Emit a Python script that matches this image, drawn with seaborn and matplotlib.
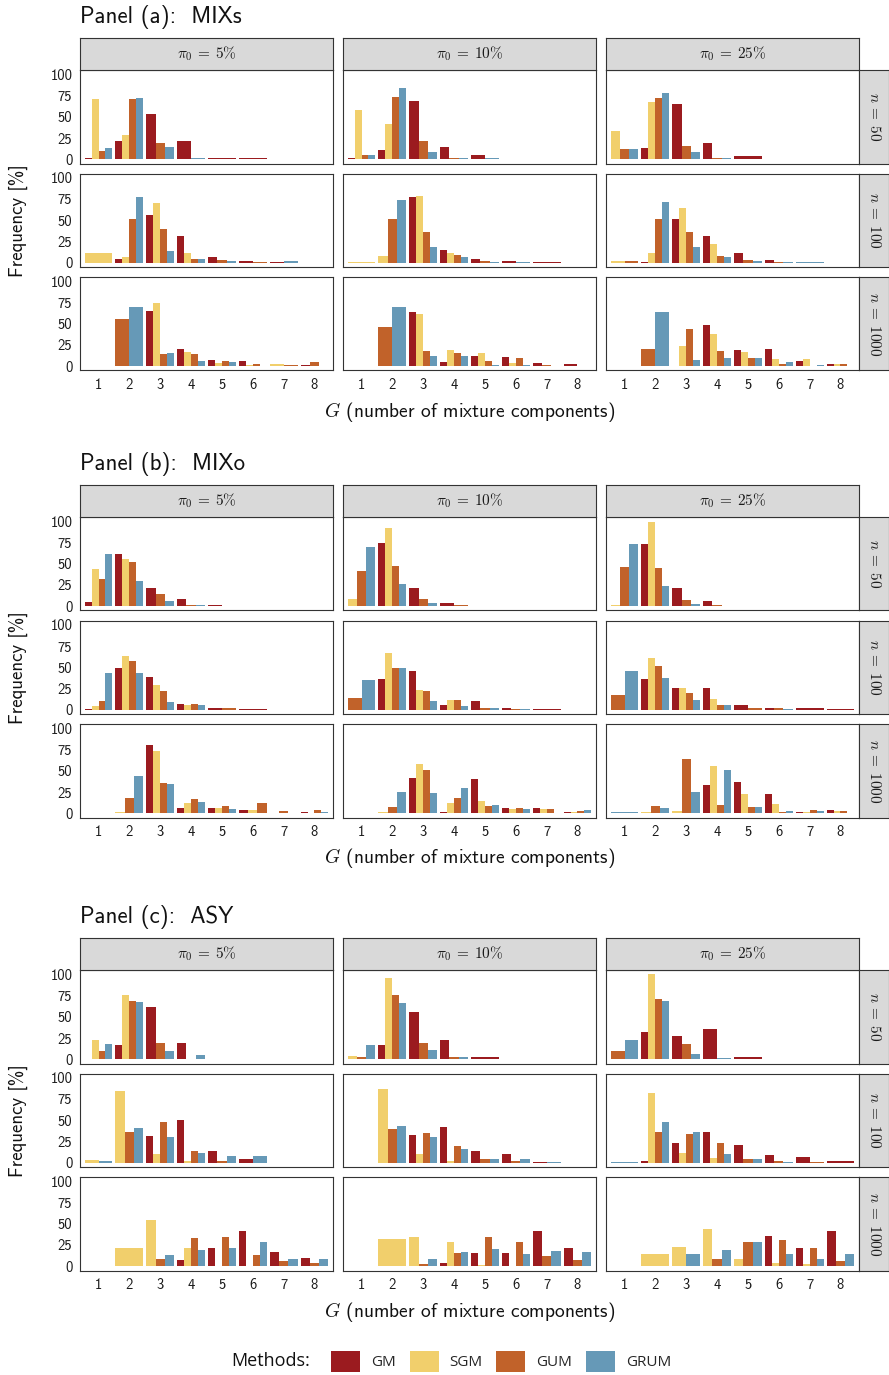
import matplotlib
matplotlib.use("Agg")
import matplotlib as mpl
import matplotlib.pyplot as plt
from matplotlib.patches import Patch
import pandas as pd
import seaborn as sns
import seaborn.objects as so

N = None

METHODS = ["GM", "SGM", "GUM", "GRUM"]
COLORS = ["#9B1B1F", "#F1CF6C", "#C1622A", "#6699B7"]
G_VALUES = [1, 2, 3, 4, 5, 6, 7, 8]
N_LEVELS = [50, 100, 1000]
PI_LEVELS = ["5", "10", "25"]
PANEL_TITLES = ["Panel (a):  MIXs", "Panel (b):  MIXo", "Panel (c):  ASY"]

# Frequencies [%] of the selected G; facets ordered (n=50: pi 5,10,25), (n=100: ...), (n=1000: ...).
# None marks a G value that a method never selected.
MIXS_GM = [
    [2, 22, 53, 21, 2, 1.5, N, N], [1, 11, 69, 14, 5, N, N, N], [N, 13, 65, 19, 3.5, N, N, N],
    [N, 4, 56, 32, 7, 1.5, 0.8, N], [N, N, 77, 15, 5, 2, 1, N], [N, 0.8, 52, 32, 12, 3.5, N, N],
    [N, N, 65, 20, 7, 6, N, 2], [N, N, 64, 5, 12, 11, 4, 3], [N, N, 0.8, 49, 19, 20, 6, 3],
]
MIXS_SGM = [
    [71, 29, N, N, N, N, N, N], [58, 42, N, N, N, N, N, N], [33, 67, N, N, N, N, N, N],
    [11, 7, 70, 12, N, N, N, N], [1, 8, 79, 12, N, N, N, N], [2.5, 11, 65, 22, N, N, N, N],
    [N, N, 74, 17, 4, 1.5, 3, N], [N, N, 61, 19, 16, 4, N, N], [N, N, 24, 38, 17, 8, 8, 3],
]
MIXS_GUM = [
    [10, 71, 19, N, N, N, N, N], [5, 73, 21, 1, N, N, N, N], [12, 72, 15, 1, N, N, N, N],
    [N, 51, 40, 5, 3, 1, N, N], [N, 52, 36, 9, 2.5, N, N, N], [1.5, 51, 36, 8, 3.5, 0.8, N, N],
    [N, 56, 14, 14, 6, 3, 2, 5], [N, 46, 18, 15, 6, 10, 1.5, 0.8], [N, 20, 44, 18, 10, 3, 0.8, 3],
]
MIXS_GRUM = [
    [13, 72, 14, 1, N, N, N, N], [5, 84, 8, 2, 1, N, N, N], [12, 78, 9, 1, N, N, N, N],
    [N, 77, 14, 5, 2.5, N, 1.5, N], [N, 74, 18, 7, 0.8, 0.8, N, N], [N, 71, 18, 7, 2.5, 0.8, 0.8, N],
    [N, 70, 16, 6, 5, 0.8, N, 0.8], [N, 70, 12, 12, 1.5, 1.5, 0.8, N], [N, 64, 7, 10, 10, 5, 1.5, 0.8],
]

MIXO_GM = [
    [5, 62, 22, 8, 1, 0.8, N, N], [N, 74, 21, 3.5, 0.8, N, N, N], [N, 73, 21, 6, 0.8, N, N, N],
    [0.8, 49, 38, 7, 2.5, 0.8, N, N], [N, 36, 46, 6, 10, 1.5, 0.8, N], [N, 36, 25, 26, 6, 2.5, 2.5, 0.8],
    [N, N, 80, 6, 6, 4, N, 1.5], [N, N, 42, 1.5, 40, 6, 6, 1.5], [N, N, N, 33, 37, 23, 1.5, 4],
]
MIXO_SGM = [
    [44, 56, N, N, N, N, N, N], [8, 92, N, N, N, N, N, N], [1, 99, N, N, N, N, N, N],
    [4, 63, 29, 5, N, N, N, N], [N, 67, 23, 11, N, N, N, N], [N, 61, 26, 13, N, N, N, N],
    [N, 1.5, 73, 12, 6, 4, 0.8, 0.8], [N, 1.5, 58, 12, 15, 5, 5, 1.5], [N, 1.5, 2.5, 56, 23, 11, 1.5, 2.5],
]
MIXO_GUM = [
    [32, 52, 14, 1.5, N, N, N, N], [41, 47, 9, 1.5, N, N, N, N], [46, 45, 7, 1.5, 0.8, N, N, N],
    [10, 57, 22, 7, 2.5, N, N, N], [14, 49, 22, 12, 1.5, 0.8, N, N], [17, 52, 20, 5, 2.5, 1.5, N, N],
    [N, 18, 36, 17, 9, 12, 2.5, 4], [N, 7, 51, 18, 8, 6, 5, 3], [N, 8, 64, 10, 7, 1.5, 4, 2.5],
]
MIXO_GRUM = [
    [61, 30, 6, 1.5, 0.8, N, N, N], [70, 26, 4, N, N, N, N, N], [73, 24, 3, 0.8, N, N, N, N],
    [43, 43, 9, 5, N, N, N, N], [35, 49, 10, 4, 1.5, 0.8, N, N], [45, 37, 12, 5, N, 0.8, N, N],
    [N, 44, 34, 13, 5, N, 0.8, 1.5], [N, 25, 24, 30, 10, 5, 0.8, 4], [1.5, 6, 25, 51, 7, 2.5, 2.5, 0.8],
]

ASY_GM = [
    [0.8, 17, 62, 19, 0.8, N, N, N], [N, 17, 56, 23, 3, N, N, N], [N, 32, 27, 36, 3, N, N, N],
    [N, N, 31, 50, 14, 5, N, N], [N, N, 33, 42, 14, 10, 0.8, N], [N, 2, 23, 36, 21, 9, 7, 2],
    [N, N, N, 7, 22, 41, 17, 10], [N, N, N, 4, 16, 16, 42, 21], [N, N, N, N, N, 36, 21, 42],
]
ASY_SGM = [
    [23, 76, N, N, N, N, N, N], [4, 96, N, N, N, N, N, N], [N, 100, N, N, N, N, N, N],
    [3, 85, 10, 2, N, N, N, N], [N, 87, 10, 2, N, N, N, N], [N, 82, 11, 6, N, N, N, N],
    [N, 22, 55, 21, 0.8, 0.8, N, N], [N, 32, 35, 29, 2, 0.8, N, N], [N, 15, 23, 44, 8, 4, 3, N],
]
ASY_GUM = [
    [10, 69, 19, 0.8, N, N, N, N], [3, 76, 19, 3, N, N, N, N], [10, 71, 18, N, N, N, N, N],
    [N, 36, 48, 14, 2, N, N, N], [N, 40, 35, 20, 5, 1.5, N, N], [N, 36, 34, 23, 4, 2.5, 0.8, N],
    [N, N, 9, 33, 35, 13, 6, 4], [N, N, 3, 16, 34, 28, 12, 7], [N, N, N, 9, 29, 31, 22, 6],
]
ASY_GRUM = [
    [18, 67, 10, 5, N, N, N, N], [17, 66, 11, 3, N, 0.8, N, N], [23, 69, 6, 1.5, N, N, N, N],
    [2.5, 41, 30, 11, 8, 8, N, N], [N, 43, 30, 16, 5, 4, 0.8, N], [0.8, 48, 36, 10, 4, 0.8, N, N],
    [N, N, 13, 19, 21, 29, 9, 9], [N, N, 9, 17, 20, 15, 18, 17], [N, N, 15, 19, 28, 15, 8, 15],
]

PANELS = [
    [MIXS_GM, MIXS_SGM, MIXS_GUM, MIXS_GRUM],
    [MIXO_GM, MIXO_SGM, MIXO_GUM, MIXO_GRUM],
    [ASY_GM, ASY_SGM, ASY_GUM, ASY_GRUM],
]


def long_frame(series):
    rows = []
    for method, facets in zip(METHODS, series):
        for k, vals in enumerate(facets):
            for g, v in zip(G_VALUES, vals):
                if v is not None:
                    rows.append(dict(method=method, n=N_LEVELS[k // 3],
                                     pi=PI_LEVELS[k % 3], G=g, freq=v))
    return pd.DataFrame(rows)


# ---- styling -------------------------------------------------------------
sns.set_theme(style="white")
TEXT_FONT = ["cmss10", "DejaVu Sans"]
plt.rcParams.update({
    "font.family": TEXT_FONT,
    "mathtext.fontset": "cm",
    "axes.unicode_minus": False,
    "axes.edgecolor": "#333333",
    "axes.linewidth": 0.8,
    "xtick.color": "#333333",
    "ytick.color": "#333333",
    "xtick.labelcolor": "#1a1a1a",
    "ytick.labelcolor": "#1a1a1a",
    "xtick.labelsize": 10.5,
    "ytick.labelsize": 10.5,
    "xtick.major.size": 3,
    "ytick.major.size": 3,
    "xtick.major.width": 0.6,
    "ytick.major.width": 0.6,
    "xtick.major.pad": 2.5,
    "ytick.major.pad": 2.5,
    "axes.grid": False,
})
so.Plot.config.theme.update(mpl.rcParams)

PALETTE = dict(zip(METHODS, COLORS))

FIG_W, FIG_H = 889, 1375
fig = plt.figure(figsize=(FIG_W / 100, FIG_H / 100), dpi=100)
fig.patch.set_facecolor("white")


def px_axes(x, y, w, h):
    return fig.add_axes([x / FIG_W, 1 - (y + h) / FIG_H, w / FIG_W, h / FIG_H])


COL_X = [80, 343, 606]
COL_W = 253
STRIP_TOPS = [38, 485, 938]
STRIP_H = 32
ROW_H = 93.5
ROW_STEP = 103.5
RSTRIP_W = 30
STRIP_FC = "#D9D9D9"
EDGE = "#333333"


def style_strip(ax):
    ax.set_facecolor(STRIP_FC)
    ax.set_xticks([])
    ax.set_yticks([])
    for s in ax.spines.values():
        s.set_color(EDGE)
        s.set_linewidth(0.8)


for p, series in enumerate(PANELS):
    df = long_frame(series)
    top0 = STRIP_TOPS[p]
    fig.text(COL_X[0] / FIG_W, 1 - (top0 - 21) / FIG_H, PANEL_TITLES[p],
             ha="left", va="center", fontsize=16.5, color="#111111")

    for r, n in enumerate(N_LEVELS):
        row_top = top0 + STRIP_H + r * ROW_STEP
        for c, pi in enumerate(PI_LEVELS):
            ax = px_axes(COL_X[c], row_top, COL_W, ROW_H)
            sub = df[(df["n"] == n) & (df["pi"] == pi)]
            (
                so.Plot(sub, x="G", y="freq", color="method")
                .add(so.Bar(width=0.9, alpha=1, edgewidth=0),
                     so.Dodge(empty="fill"), legend=False)
                .scale(color=so.Nominal(PALETTE, order=METHODS))
                .on(ax)
                .plot()
            )
            ax.set_facecolor("white")
            ax.grid(False)
            ax.set_xlabel("")
            ax.set_ylabel("")
            ax.set_xlim(0.4, 8.6)
            ax.set_ylim(-5, 105)
            for s in ax.spines.values():
                s.set_visible(True)
                s.set_color(EDGE)
                s.set_linewidth(0.8)
            ax.set_yticks([0, 25, 50, 75, 100])
            ax.set_xticks(G_VALUES)
            ax.tick_params(axis="both", which="major", length=3, width=0.6,
                           color=EDGE, labelsize=10.5, labelcolor="#1a1a1a", pad=2.5,
                           top=False, right=False)
            if c == 0:
                ax.set_yticklabels(["0", "25", "50", "75", "100"])
            else:
                ax.tick_params(axis="y", left=False, labelleft=False)
            if r == len(N_LEVELS) - 1:
                ax.set_xticklabels([str(g) for g in G_VALUES])
            else:
                ax.tick_params(axis="x", bottom=False, labelbottom=False)
            ax.tick_params(axis="both", which="minor", length=0)

            if r == 0:
                sax = px_axes(COL_X[c], top0, COL_W, STRIP_H)
                style_strip(sax)
                sax.text(0.5, 0.5, r"$\pi_0\:=\:%s\%%$" % pi, transform=sax.transAxes,
                         ha="center", va="center", fontsize=11, color="#1a1a1a")
        rax = px_axes(COL_X[2] + COL_W, row_top, RSTRIP_W, ROW_H)
        style_strip(rax)
        rax.text(0.5, 0.5, r"$n\:=\:%d$" % n, transform=rax.transAxes, rotation=-90,
                 ha="center", va="center", fontsize=11, color="#1a1a1a")

    mid_y = top0 + STRIP_H + ROW_STEP + ROW_H / 2
    fig.text(18 / FIG_W, 1 - mid_y / FIG_H, "Frequency [%]", rotation=90,
             ha="center", va="center", fontsize=13.5, color="#111111")
    bottom = top0 + STRIP_H + 2 * ROW_STEP + ROW_H
    x_mid = (COL_X[0] + COL_X[2] + COL_W) / 2
    fig.text(x_mid / FIG_W, 1 - (bottom + 41) / FIG_H,
             r"$G$ (number of mixture components)",
             ha="center", va="center", fontsize=14, color="#111111")

# ---- legend ----------------------------------------------------------------
LEG_Y = 1361.5
fig.text(310 / FIG_W, 1 - LEG_Y / FIG_H, "Methods:", ha="right", va="center",
         fontsize=13, color="#111111", family=["Open Sans", "DejaVu Sans"])
handles = [Patch(facecolor=col, edgecolor="none") for col in COLORS]
fig.legend(handles, METHODS, loc="center left",
           bbox_to_anchor=(331 / FIG_W, 1 - LEG_Y / FIG_H), ncol=4, frameon=False,
           borderpad=0, borderaxespad=0, handlelength=1.9, handleheight=1.75,
           handletextpad=0.72, columnspacing=0.9,
           prop={"family": ["Open Sans", "DejaVu Sans"], "size": 11})

fig.savefig("out.png", dpi=100, facecolor="white")
